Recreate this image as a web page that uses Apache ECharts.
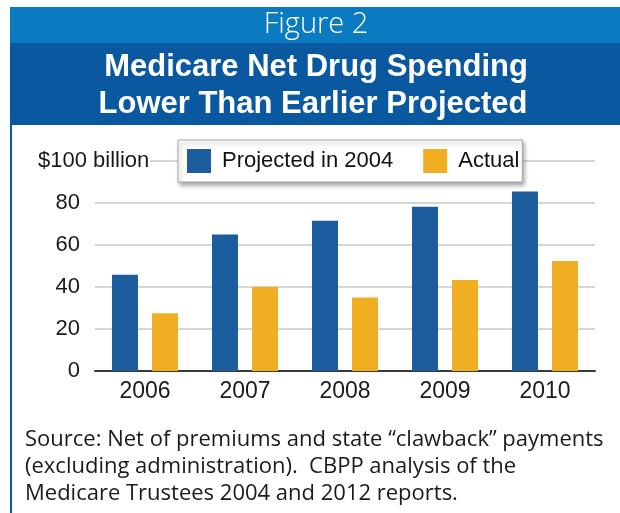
<!DOCTYPE html>
<html>
<head>
<meta charset="utf-8">
<script src="https://cdn.jsdelivr.net/npm/echarts@6/dist/echarts.min.js"></script>
<style>
  html, body { margin: 0; padding: 0; background: #fff; }
  #chart { width: 620px; height: 513px; }
</style>
</head>
<body>
<div id="chart"></div>
<script>
// Medicare net drug spending, billions of dollars
const years = ['2006', '2007', '2008', '2009', '2010'];
const projected2004 = [45.8, 65, 71.5, 78.2, 85.5];
const actual = [27.5, 40, 35, 43.3, 52.4];
const seriesNames = ['Projected in 2004', 'Actual'];
const yTicks = [0, 20, 40, 60, 80, 100];
const topTickLabel = '$100 billion';

const headerLabel = 'Figure 2';
const titleLines = ['Medicare Net Drug Spending', 'Lower Than Earlier Projected'];
const sourceLines = [
  'Source: Net of premiums and state \u201cclawback\u201d payments',
  '(excluding administration).  CBPP analysis of the',
  'Medicare Trustees 2004 and 2012 reports.'
];

const BLUE = '#1b5d9d';
const GOLD = '#f0ae22';
const AXIS_FONT = '"Liberation Sans", Arial, sans-serif';

const chart = echarts.init(document.getElementById('chart'), null, { renderer: 'canvas' });

const option = {
  animation: false,
  backgroundColor: '#fff',
  grid: { left: 95, right: 25, top: 161, bottom: 142 },
  legend: {
    data: seriesNames,
    left: 178,
    top: 140,
    orient: 'horizontal',
    icon: 'rect',
    itemWidth: 24,
    itemHeight: 24,
    itemGap: 30,
    padding: [9, 3, 9, 9],
    backgroundColor: '#fff',
    borderColor: '#a8a8a8',
    borderWidth: 1,
    shadowColor: 'rgba(0,0,0,0.35)',
    shadowBlur: 4,
    shadowOffsetX: 2,
    shadowOffsetY: 3,
    textStyle: { fontFamily: AXIS_FONT, fontSize: 22, color: '#111', padding: [0, 0, 0, 6] }
  },
  xAxis: {
    type: 'category',
    data: years,
    axisTick: { show: false },
    axisLine: { lineStyle: { color: '#3a3a3a', width: 2 } },
    axisLabel: { fontFamily: AXIS_FONT, fontSize: 23, color: '#1a1a1a', margin: 9 }
  },
  yAxis: {
    type: 'value',
    min: yTicks[0],
    max: yTicks[yTicks.length - 1],
    interval: yTicks[1] - yTicks[0],
    axisLine: { show: false },
    axisTick: { show: false },
    splitLine: { lineStyle: { color: '#c8c8c8', width: 1.5 } },
    axisLabel: {
      fontFamily: AXIS_FONT, fontSize: 22, color: '#1a1a1a', margin: 15,
      formatter: v => (v === yTicks[yTicks.length - 1] ? '' : String(v))
    }
  },
  series: [
    {
      name: seriesNames[0], type: 'bar', data: projected2004,
      barWidth: 26, barGap: '54%',
      itemStyle: { color: BLUE }
    },
    {
      name: seriesNames[1], type: 'bar', data: actual,
      barWidth: 26, barGap: '54%',
      itemStyle: { color: GOLD }
    }
  ]
};

chart.setOption(option);

// Frame, header band, top axis caption and source note
const topY = chart.convertToPixel({ yAxisIndex: 0 }, yTicks[yTicks.length - 1]);
chart.setOption({
  graphic: [
    { type: 'rect', shape: { x: 10, y: 7, width: 610, height: 36 }, style: { fill: '#0a7bc1' }, silent: true },
    { type: 'rect', shape: { x: 10, y: 43, width: 610, height: 82 }, style: { fill: '#0a589f' }, silent: true },
    { type: 'rect', shape: { x: 10, y: 125, width: 2, height: 388 }, style: { fill: '#0a589f' }, silent: true },
    {
      type: 'text', x: 316, y: 25,
      style: { text: headerLabel, fill: '#fff', font: '300 29px "Open Sans", sans-serif', align: 'center', verticalAlign: 'middle' }
    },
    {
      type: 'text', x: 316, y: 67,
      style: { text: titleLines[0], fill: '#fff', font: 'bold 31px "Liberation Sans", Arial, sans-serif', align: 'center', verticalAlign: 'middle' }
    },
    {
      type: 'text', x: 313, y: 104,
      style: { text: titleLines[1], fill: '#fff', font: 'bold 31px "Liberation Sans", Arial, sans-serif', align: 'center', verticalAlign: 'middle' }
    },
    { type: 'rect', shape: { x: 30, y: topY - 4, width: 120, height: 8 }, style: { fill: '#fff' }, silent: true, z: 5 },
    {
      type: 'text', x: 38, y: topY, z: 6,
      style: { text: topTickLabel, fill: '#1a1a1a', font: '22px ' + AXIS_FONT, align: 'left', verticalAlign: 'middle' }
    },
    ...sourceLines.map((t, i) => ({
      type: 'text', x: 25, y: 440 + i * 27,
      style: { text: t, fill: '#1a1a1a', font: '22px "Open Sans", sans-serif', align: 'left', verticalAlign: 'middle' }
    }))
  ]
});
</script>
</body>
</html>
